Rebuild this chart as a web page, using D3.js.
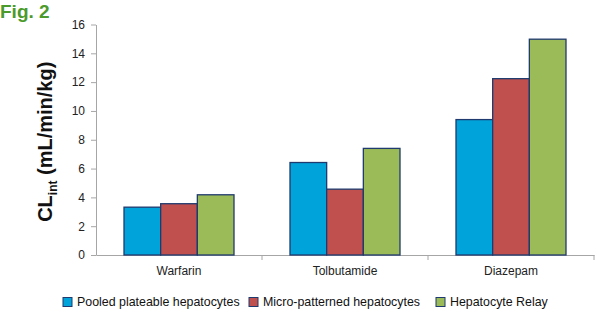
<!DOCTYPE html>
<html>
<head>
<meta charset="utf-8">
<script src="https://cdn.jsdelivr.net/npm/d3@7"></script>
<style>
  body { margin: 0; background: #fff; }
  svg { display: block; font-family: "Liberation Sans", Arial, sans-serif; }
</style>
</head>
<body>
<div id="chart"></div>
<script>
// Drugs on the x axis
const drugs = ["Warfarin", "Tolbutamide", "Diazepam"];
// Hepatocyte systems (series)
const systems = ["Pooled plateable hepatocytes", "Micro-patterned hepatocytes", "Hepatocyte Relay"];
// CLint values per system, in drug order
const pooled = [3.32, 6.42, 9.40];
const microPatterned = [3.56, 4.57, 12.24];
const relay = [4.18, 7.40, 14.98];
const yTicks = [0, 2, 4, 6, 8, 10, 12, 14, 16];

const colors = ["#00a3da", "#c0504d", "#9bbb59"];
const seriesValues = [pooled, microPatterned, relay];

const W = 600, H = 326;
const margin = { top: 24.5, right: 6, bottom: 71, left: 96 };

const svg = d3.select("#chart").append("svg")
    .attr("width", W)
    .attr("height", H);

const x = d3.scaleBand()
    .domain(drugs)
    .range([margin.left, W - margin.right])
    .paddingInner(0)
    .paddingOuter(0);

const xInner = d3.scaleBand()
    .domain(systems)
    .range([28, x.bandwidth() - 28]);

const y = d3.scaleLinear()
    .domain([0, 16])
    .range([H - margin.bottom, margin.top]);

// Y axis
const yAxis = svg.append("g")
    .attr("transform", `translate(${margin.left},0)`)
    .call(d3.axisLeft(y).tickValues(yTicks).tickSize(5).tickSizeOuter(0));
yAxis.select(".domain").attr("stroke", "#a6a6a6");
yAxis.selectAll(".tick line").attr("stroke", "#a6a6a6");
yAxis.selectAll(".tick text")
    .attr("x", -11)
    .style("font-size", "12px")
    .attr("fill", "#222");

// X axis, ticks sit on category boundaries
const xAxis = svg.append("g")
    .attr("transform", `translate(0,${y(0)})`)
    .call(d3.axisBottom(x).tickSize(0).tickSizeOuter(0));
xAxis.select(".domain").attr("stroke", "#a6a6a6");
xAxis.selectAll(".tick text")
    .attr("dy", "1.4em")
    .style("font-size", "12px")
    .attr("fill", "#222");
svg.append("g").selectAll("line")
    .data(drugs.slice(1).concat(["end"]))
    .join("line")
    .attr("x1", (d, i) => i < drugs.length - 1 ? x(d) : x.range()[1])
    .attr("x2", (d, i) => i < drugs.length - 1 ? x(d) : x.range()[1])
    .attr("y1", y(0))
    .attr("y2", y(0) + 5)
    .attr("stroke", "#a6a6a6");

// Bars
const groups = svg.append("g").selectAll("g")
    .data(drugs)
    .join("g")
    .attr("transform", d => `translate(${x(d)},0)`);

groups.selectAll("rect")
    .data((d, i) => systems.map((s, j) => ({ s, j, v: seriesValues[j][i] })))
    .join("rect")
    .attr("x", d => xInner(d.s))
    .attr("y", d => y(d.v))
    .attr("width", xInner.bandwidth())
    .attr("height", d => y(0) - y(d.v))
    .attr("fill", d => colors[d.j])
    .attr("stroke", "#1f3a6e")
    .attr("stroke-width", 1.3);

// Y axis title
const title = svg.append("text")
    .attr("transform", `translate(52,${(y(0) + y(16)) / 2 + 2}) rotate(-90)`)
    .attr("text-anchor", "middle")
    .style("font-size", "20px")
    .style("font-weight", "bold")
    .attr("fill", "#111");
title.append("tspan").text("CL");
title.append("tspan").text("int").attr("dy", 5).style("font-size", "12px");
title.append("tspan").text(" (mL/min/kg)").attr("dy", -5);

// Figure label
svg.append("text")
    .attr("x", 0)
    .attr("y", 18)
    .style("font-size", "19px")
    .style("font-weight", "bold")
    .attr("fill", "#4b9a2c")
    .text("Fig. 2");

// Legend
const legendX = [63, 249, 436];
const legend = svg.append("g").selectAll("g")
    .data(systems)
    .join("g")
    .attr("transform", (d, i) => `translate(${legendX[i]},302)`);
legend.append("rect")
    .attr("x", 0)
    .attr("y", -4.5)
    .attr("width", 9)
    .attr("height", 9)
    .attr("fill", (d, i) => colors[i])
    .attr("stroke", "#1f3a6e")
    .attr("stroke-width", 1);
legend.append("text")
    .attr("x", 14)
    .attr("y", 0)
    .attr("dy", "0.36em")
    .style("font-size", "12.4px")
    .attr("fill", "#111")
    .text(d => d);
</script>
</body>
</html>
